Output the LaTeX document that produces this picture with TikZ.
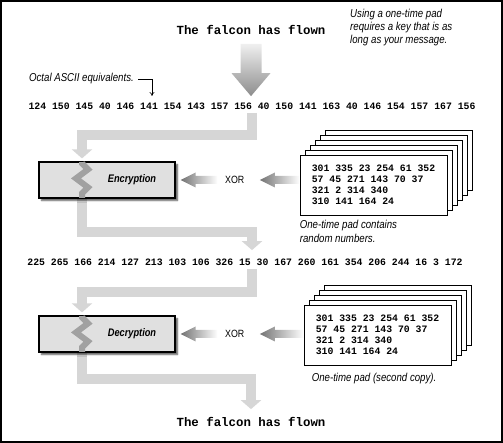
\documentclass[tikz,border=0pt]{standalone}
\usepackage{fontspec}
\setmonofont{Liberation Mono}
\newfontfamily\narrowsf[FakeStretch=0.84]{Liberation Sans}
\usepackage{tikz}
\usetikzlibrary{arrows.meta, calc, positioning, backgrounds, shadows.blur}
\definecolor{flowgray}{gray}{0.84}
\definecolor{ziggray}{gray}{0.63}
\definecolor{boxgray}{gray}{0.88}

\newcommand{\fadearrow}[2]{% #1 = tail, #2 = tip, pointing left
  \shade[left color=black!55, right color=white]
    let \p1=(#1), \p2=(#2) in
    (\x2,\y2) -- (\x2+15pt,\y2+7.5pt) -- (\x2+15pt,\y2+4pt) -- (\x1,\y2+4pt)
    -- (\x1,\y2-4pt) -- (\x2+15pt,\y2-4pt) -- (\x2+15pt,\y2-7.5pt) -- cycle;}

\begin{document}
\begin{tikzpicture}[x=1pt, y=-1pt,
    plain/.style={font=\ttfamily\bfseries\fontsize{12.4}{14}\selectfont, inner sep=3pt},
    digits/.style={font=\ttfamily\bfseries\fontsize{9.8}{11}\selectfont},
    note/.style={font=\narrowsf\itshape\fontsize{11.5}{13.2}\selectfont, align=left, inner sep=0pt},
    flow/.style={draw=flowgray, line width=10pt, line join=miter,
                 -{Triangle[width=20pt, length=9pt]}},
    stage/.style={draw, line width=1.2pt, fill=boxgray, minimum width=136pt, minimum height=36pt,
                  blur shadow={shadow xshift=2.5pt, shadow yshift=-2.5pt,
                               shadow blur radius=1.5pt, shadow opacity=65}},
    stagetext/.style={font=\narrowsf\bfseries\itshape\fontsize{11}{13}\selectfont},
    zig/.style={draw=ziggray, line width=6pt, line join=miter, shorten <=0.7pt, shorten >=0.7pt},
    sheet/.style={draw, line width=0.8pt, fill=white, minimum width=147pt, minimum height=60pt,
                  inner xsep=10pt, align=left, font=\ttfamily\bfseries\fontsize{9.8}{11}\selectfont},
    xor/.style={font=\narrowsf\fontsize{10.5}{12}\selectfont}
  ]
  \useasboundingbox (0,0) rectangle (503,443);
  \draw[line width=1.2pt] (1,1) rectangle (502,442);

  \node[plain] (msg) at (251,30) {The falcon has flown};
  \node[note, anchor=north west] (keynote) at (350,9)
    {Using a one-time pad\\requires a key that is as\\long as your message.};
  \node[digits] (row1) at (252,106)
    {124 150 145 40 146 141 154 143 157 156 40 150 141 163 40 146 154 157 167 156};
  \node[note, anchor=east] (oct) at (134,79) {Octal ASCII equivalents.};
  \coordinate (oct141) at (152,96);
  \draw[line width=0.6pt, -{To[length=4pt, width=5pt]}] ([xshift=4pt]oct.east) -| (oct141);

  \shade[top color=black!6, bottom color=black!45]
    let \p1=([yshift=-6pt]msg.south), \p2=([yshift=3pt]row1.north) in
    (\x1-10.5pt,\y1) -- (\x1+10.5pt,\y1) -- (\x1+10.5pt,\y2+23pt) -- (\x1+19.5pt,\y2+23pt)
    -- (\x1,\y2) -- (\x1-19.5pt,\y2+23pt) -- (\x1-10.5pt,\y2+23pt) -- cycle;

  \coordinate (leg) at (82,0);

  % encryption
  \node[stage] (enc) at (107,180) {};
  \node[stagetext] (enclabel) at ([xshift=25pt]enc.center) {Encryption};
  \draw[zig] (enc.north -| leg) -- ++(0,2) -- ++(6,6) -- ++(-12,9) -- ++(12,9) -- ++(-6,6)
    -- (enc.south -| leg);
  \node[xor, right=46pt of enc] (xor1) {XOR};

  \coordinate (p1) at (373.5,185);
  \foreach \k in {5,...,1}
    \node[sheet] (pad1-\k) at ($(p1)+(5*\k,-5*\k)$) {};
  \node[sheet] (pad1) at (p1) {301 335 23 254 61 352\\57 45 271 143 70 37\\321 2 314 340\\310 141 164 24};
  \node[note, anchor=north west] (padnote1) at ([yshift=-5pt]pad1.south west)
    {One-time pad contains\\random numbers.};
  \fadearrow{[xshift=-4pt]xor1.west}{[xshift=5pt]enc.east}
  \fadearrow{pad1.west}{[xshift=12pt]xor1.east}

  \node[digits] (row2) at (245,262)
    {225 265 166 214 127 213 103 106 326 15 30 167 260 161 354 206 244 16 3 172};

  % decryption
  \node[stage] (dec) at (107,334) {};
  \node[stagetext] (declabel) at ([xshift=25pt]dec.center) {Decryption};
  \draw[zig] (dec.north -| leg) -- ++(0,2) -- ++(6,6) -- ++(-12,9) -- ++(12,9) -- ++(-6,6)
    -- (dec.south -| leg);
  \node[xor, right=46pt of dec] (xor2) {XOR};

  \coordinate (p2) at (377.5,335);
  \foreach \k in {4,...,1}
    \node[sheet] (pad2-\k) at ($(p2)+(5*\k,-5*\k)$) {};
  \node[sheet] (pad2) at (p2) {301 335 23 254 61 352\\57 45 271 143 70 37\\321 2 314 340\\310 141 164 24};
  \node[note, anchor=north west] (padnote2) at ([xshift=8pt, yshift=-8pt]pad2.south west)
    {One-time pad (second copy).};
  \fadearrow{[xshift=-4pt]xor2.west}{[xshift=5pt]dec.east}
  \fadearrow{pad2.west}{[xshift=12pt]xor2.east}

  \node[plain] (out) at (251,422) {The falcon has flown};

  \begin{pgfonlayer}{background}
    \draw[flow, shorten >=3pt] (row1.south) -- ++(0,22) -| (enc.north -| leg);
    \draw[flow, shorten >=5pt] (enc.south -| leg) -- ++(0,33) -| (row2.north -| row1.south);
    \draw[flow, shorten >=3pt] (row2.south -| row1.south) -- ++(0,23) -| (dec.north -| leg);
    \draw[flow, shorten >=5pt] (dec.south -| leg) -- ++(0,26) -| (out.north);
  \end{pgfonlayer}
\end{tikzpicture}
\end{document}
